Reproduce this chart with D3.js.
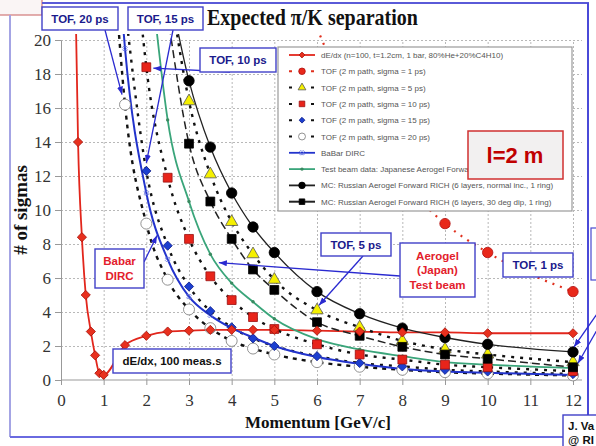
<!DOCTYPE html>
<html>
<head>
<meta charset="utf-8">
<script src="https://cdn.jsdelivr.net/npm/d3@7"></script>
<style>
  body { margin: 0; background: #fff; }
  svg { display: block; }
</style>
</head>
<body>
<svg id="chart"></svg>
<script>
// ---------------- data ----------------
const xTicks = [0, 1, 2, 3, 4, 5, 6, 7, 8, 9, 10, 11, 12];
const yTicks = [0, 2, 4, 6, 8, 10, 12, 14, 16, 18, 20];

// dE/dx, 100 measurements
const dedxP     = [0.35, 0.4, 0.49, 0.58, 0.7, 0.8, 0.9, 1.0, 1.5, 2, 2.5, 3, 3.5, 4, 4.5, 5, 6, 7, 8, 9, 10, 12];
const dedxSigma = [21, 14.0, 8.4, 5.0, 2.85, 1.45, 0.4, 0.3, 2.05, 2.6, 2.85, 2.9, 2.95, 2.95, 2.95, 2.95, 2.9, 2.85, 2.8, 2.8, 2.75, 2.75];

// TOF, 2 m path
const tof1P      = [6, 7, 8, 9, 10, 12];
const tof1Sigma  = [20.7, 15.2, 11.7, 9.2, 7.5, 5.2];
const tof5P      = [2.5, 3, 3.5, 4, 4.5, 5, 6, 7, 8, 9, 10, 12];
const tof5Sigma  = [24, 16.4, 12.1, 9.3, 7.4, 5.9, 4.1, 3.1, 2.3, 1.8, 1.5, 1.05];
const tof10P     = [1.5, 2, 2.5, 3, 3.5, 4, 4.5, 5, 6, 7, 8, 9, 10, 12];
const tof10Sigma = [33, 18.4, 11.9, 8.3, 6.1, 4.7, 3.7, 3.0, 2.1, 1.5, 1.2, 0.9, 0.75, 0.52];
const tof15P     = [1.5, 2, 2.5, 3, 3.5, 4, 4.5, 5, 6, 7, 8, 9, 10, 12];
const tof15Sigma = [22, 12.3, 7.9, 5.5, 4.05, 3.1, 2.45, 2.0, 1.4, 1.0, 0.8, 0.6, 0.5, 0.35];
const tof20P     = [1.25, 1.5, 2, 2.5, 3, 3.5, 4, 4.5, 5, 6, 7, 8, 9, 10, 12];
const tof20Sigma = [24, 16.2, 9.2, 5.9, 4.15, 3.05, 2.3, 1.85, 1.5, 1.05, 0.78, 0.6, 0.46, 0.38, 0.27];

// BaBar DIRC
const babarP     = [1.4, 1.5, 2, 2.5, 3, 3.5, 4, 4.5, 5, 6, 7, 8, 9, 10, 12];
const babarSigma = [22.5, 19.5, 11.0, 7.1, 4.9, 3.8, 3.05, 2.5, 2.0, 1.35, 0.95, 0.65, 0.5, 0.42, 0.3];

// Test beam: Japanese aerogel
const beamP     = [2.2, 2.5, 3, 3.5, 4, 4.5, 5, 6, 7, 8, 9, 10, 12];
const beamSigma = [21.5, 15.3, 10.5, 7.4, 5.7, 4.6, 3.6, 2.4, 1.8, 1.4, 1.05, 0.9, 0.7];

// MC: Russian aerogel forward RICH
const mcNormP     = [2.5, 3, 3.5, 4, 4.5, 5, 6, 7, 8, 9, 10, 12];
const mcNormSigma = [23.5, 17.6, 13.7, 11.0, 9.0, 7.5, 5.2, 3.9, 3.05, 2.5, 2.1, 1.65];
const mcDipP      = [2.5, 3, 3.5, 4, 4.5, 5, 6, 7, 8, 9, 10, 12];
const mcDipSigma  = [21.5, 13.9, 10.5, 8.3, 6.5, 5.3, 3.4, 2.6, 1.95, 1.5, 1.25, 0.75];

const legendLabels = [
  'dE/dx (n=100, t=1.2cm, 1 bar, 80%He+20%C4H10)',
  'TOF (2 m path, sigma = 1 ps)',
  'TOF (2 m path, sigma = 5 ps)',
  'TOF (2 m path, sigma = 10 ps)',
  'TOF (2 m path, sigma = 15 ps)',
  'TOF (2 m path, sigma = 20 ps)',
  'BaBar DIRC',
  'Test beam data: Japanese Aerogel Forward RICH',
  'MC: Russian Aerogel Forward RICH (6 layers, normal inc., 1 ring)',
  'MC: Russian Aerogel Forward RICH (6 layers, 30 deg dip, 1 ring)'
];

// ---------------- setup ----------------
const W = 596, H = 446;
const plotRight = 582;

const svg = d3.select('#chart').attr('width', W).attr('height', H);

const x = d3.scaleLinear().domain([0, 12]).range([61, 573]);
const y = d3.scaleLinear().domain([0, 20]).range([380, 40]);

const zip = (ps, vs) => ps.map((p, i) => ({p: p, v: vs[i]}));

// series styles (legend order)
const series = [
  {data: zip(dedxP, dedxSigma), color: '#e2261c', width: 1.8, dash: null, sym: 'diamond', size: 42, fill: '#e8301e', stroke: '#a8140c'},
  {data: zip(tof1P, tof1Sigma), color: '#e0301e', width: 2.2, dash: '2,6', sym: 'circle', size: 85, fill: '#e8281a', stroke: '#b01010'},
  {data: zip(tof5P, tof5Sigma), color: '#111', width: 2.4, dash: '3,6', sym: 'triangle', size: 66, fill: '#f5f000', stroke: '#555'},
  {data: zip(tof10P, tof10Sigma), color: '#111', width: 2.4, dash: '3,6', sym: 'square', size: 78, fill: '#e8241a', stroke: '#9a1010'},
  {data: zip(tof15P, tof15Sigma), color: '#111', width: 2.4, dash: '3,6', sym: 'diamond', size: 42, fill: '#1c3fd0', stroke: '#10208a'},
  {data: zip(tof20P, tof20Sigma), color: '#111', width: 2.4, dash: '4,5', sym: 'circle', size: 95, fill: '#fff', stroke: '#777'},
  {data: zip(babarP, babarSigma), color: '#2233cc', width: 2, dash: null, sym: 'x', size: 14, fill: 'none', stroke: '#6a7ae0'},
  {data: zip(beamP, beamSigma), color: '#3aa57a', width: 1.8, dash: null, sym: 'circle', size: 9, fill: '#3a8a60', stroke: 'none'},
  {data: zip(mcNormP, mcNormSigma), color: '#222', width: 1.3, dash: null, sym: 'circle', size: 85, fill: '#000', stroke: '#000'},
  {data: zip(mcDipP, mcDipSigma), color: '#222', width: 1.5, dash: '8,4', sym: 'square', size: 78, fill: '#000', stroke: '#000'}
];

const symType = {diamond: d3.symbolSquare, circle: d3.symbolCircle, triangle: d3.symbolTriangle,
                 square: d3.symbolSquare, x: d3.symbolCross};
const symRot = {diamond: 45, x: 45};

function drawMarker(g, s, cx, cy, k) {
  g.append('path')
    .attr('d', d3.symbol().type(symType[s.sym]).size(s.size * k)())
    .attr('transform', `translate(${cx},${cy}) rotate(${symRot[s.sym] || 0})`)
    .attr('fill', s.fill)
    .attr('stroke', s.stroke)
    .attr('stroke-width', 0.8);
}

// ---------------- slide frame ----------------
const frame = svg.append('g');
frame.append('rect').attr('x', -1).attr('y', -1).attr('width', 43).attr('height', 16)
  .attr('fill', '#faf5f5').attr('stroke', '#d07878').attr('stroke-width', 1.2);
frame.append('line').attr('x1', 10).attr('x2', 10).attr('y1', 15).attr('y2', 437)
  .attr('stroke', '#a4a4e4').attr('stroke-width', 2);
frame.append('line').attr('x1', 42).attr('x2', 589).attr('y1', 3).attr('y2', 3)
  .attr('stroke', '#5a5ad8').attr('stroke-width', 2);
frame.append('line').attr('x1', 588).attr('x2', 588).attr('y1', 3).attr('y2', 415)
  .attr('stroke', '#4a4ad8').attr('stroke-width', 2);
frame.append('line').attr('x1', 10).attr('x2', 563).attr('y1', 437).attr('y2', 437)
  .attr('stroke', '#6a6ae0').attr('stroke-width', 2);
frame.append('rect').attr('x', 591).attr('y', 228).attr('width', 12).attr('height', 52)
  .attr('fill', '#fff').attr('stroke', '#4a4ad0').attr('stroke-width', 1.2);

// title
svg.append('text')
  .attr('transform', 'translate(207,25) scale(1,1.2)')
  .attr('font-family', '"Liberation Serif", "Times New Roman", serif')
  .attr('font-weight', 'bold').attr('font-size', 20).attr('fill', '#111')
  .text('Expected \u03c0/K separation');

// ---------------- grid ----------------
svg.append('g')
  .attr('transform', `translate(${x(0)},0)`)
  .call(d3.axisLeft(y).tickValues(yTicks.slice(1)).tickSize(-(plotRight - x(0))).tickFormat(''))
  .call(g => g.select('.domain').remove())
  .call(g => g.selectAll('line').attr('stroke', '#b8b8b8').attr('stroke-dasharray', '2,2'));

svg.append('g')
  .attr('transform', `translate(0,${y(0)})`)
  .call(d3.axisBottom(x).tickValues(xTicks.slice(1)).tickSize(-(y(0) - y(20))).tickFormat(''))
  .call(g => g.select('.domain').remove())
  .call(g => g.selectAll('line').attr('stroke', '#b8b8b8').attr('stroke-dasharray', '2,2'));

// ---------------- axes ----------------
const tickFont = '"Liberation Serif", "Times New Roman", serif';

svg.append('g')
  .attr('transform', `translate(${x(0)},0)`)
  .call(d3.axisLeft(y).tickValues(yTicks).tickSize(6).tickSizeOuter(0).tickPadding(4))
  .call(g => g.select('.domain').attr('stroke', '#999'))
  .call(g => g.selectAll('line').attr('stroke', '#999'))
  .call(g => g.selectAll('text').attr('font-family', tickFont).attr('font-size', 17).attr('fill', '#333'));

svg.append('g')
  .attr('transform', `translate(0,${y(0)})`)
  .call(d3.axisBottom(x).tickValues(xTicks).tickSize(5).tickSizeOuter(0).tickPadding(9))
  .call(g => g.select('.domain').attr('d', `M${x(0)},0H${plotRight}`).attr('stroke', '#999'))
  .call(g => g.selectAll('line').attr('stroke', '#999'))
  .call(g => g.selectAll('text').attr('font-family', tickFont).attr('font-size', 17).attr('fill', '#333'));

// axis titles
svg.append('text')
  .attr('x', (x(0) + x(12)) / 2 + 1).attr('y', 428)
  .attr('text-anchor', 'middle')
  .attr('font-family', tickFont).attr('font-weight', 'bold').attr('font-size', 17).attr('fill', '#111')
  .text('Momentum [GeV/c]');

svg.append('text')
  .attr('transform', `translate(27,${(y(0) + y(20)) / 2}) rotate(-90)`)
  .attr('text-anchor', 'middle')
  .attr('font-family', tickFont).attr('font-weight', 'bold').attr('font-size', 19).attr('fill', '#111')
  .text('# of sigmas');

// ---------------- series ----------------
svg.append('defs').append('clipPath').attr('id', 'plot-clip')
  .append('rect').attr('x', x(0)).attr('y', 34).attr('width', plotRight - x(0) + 4).attr('height', 356);

const chart = svg.append('g').attr('clip-path', 'url(#plot-clip)');

const line = d3.line().x(d => x(d.p)).y(d => y(d.v)).curve(d3.curveMonotoneX);

series.forEach(s => {
  chart.append('path')
    .datum(s.data)
    .attr('fill', 'none')
    .attr('stroke', s.color)
    .attr('stroke-width', s.width)
    .attr('stroke-dasharray', s.dash)
    .attr('d', line);
});

// marker drawing order: open circles at the bottom, big solid markers on top
const markerOrder = [6, 7, 5, 4, 3, 2, 9, 8, 0, 1];
markerOrder.forEach(i => {
  const s = series[i];
  const g = chart.append('g');
  s.data.forEach(d => drawMarker(g, s, x(d.p), y(d.v), 1));
});

// ---------------- legend ----------------
const legend = svg.append('g');
legend.append('rect').attr('x', 278).attr('y', 47).attr('width', 294).attr('height', 164)
  .attr('fill', '#fff').attr('stroke', '#9a9a9a').attr('stroke-width', 1.2);

legendLabels.forEach((label, i) => {
  const s = series[i];
  const ly = 55 + i * 16.3;
  legend.append('line')
    .attr('x1', 289).attr('x2', 315).attr('y1', ly).attr('y2', ly)
    .attr('stroke', s.color)
    .attr('stroke-width', s.dash ? 2 : 1.8)
    .attr('stroke-dasharray', s.dash ? (i === 9 ? null : '3,8') : null);
  drawMarker(legend, s, 302, ly, s.size > 20 ? 0.4 : 1);
  legend.append('text')
    .attr('x', 321).attr('y', ly + 3)
    .attr('font-family', '"Liberation Sans", Arial, sans-serif')
    .attr('font-size', 8).attr('fill', '#555')
    .text(label);
});

// l = 2 m box
svg.append('rect').attr('x', 468).attr('y', 131).attr('width', 95).attr('height', 48)
  .attr('fill', '#f2f0f0').attr('stroke', '#d03030').attr('stroke-width', 1.5);
svg.append('text').attr('x', 515).attr('y', 163).attr('text-anchor', 'middle')
  .attr('font-family', '"Liberation Sans", Arial, sans-serif')
  .attr('font-weight', 'bold').attr('font-size', 22).attr('fill', '#c00000')
  .text('l=2 m');

// ---------------- annotations ----------------
svg.select('defs').append('marker')
  .attr('id', 'arrow').attr('markerUnits', 'userSpaceOnUse')
  .attr('markerWidth', 8).attr('markerHeight', 6).attr('refX', 8).attr('refY', 3)
  .attr('orient', 'auto')
  .append('path').attr('d', 'M0,0L8,3L0,6Z').attr('fill', '#2a2ad0');

const navy = '#1a1a8c', red = '#e3202c';

// label boxes: [x, y, w, h], lines, colour
const notes = [
  {box: [42, 7, 76, 23], lines: ['TOF, 20 ps'], color: navy},
  {box: [128, 7, 75, 23], lines: ['TOF, 15 ps'], color: navy},
  {box: [200, 48, 76, 24], lines: ['TOF, 10 ps'], color: navy},
  {box: [95, 249, 49, 39], lines: ['Babar', 'DIRC'], color: red},
  {box: [113, 349, 118, 24], lines: ['dE/dx, 100 meas.s'], color: '#111'},
  {box: [321, 233, 70, 23], lines: ['TOF, 5 ps'], color: navy},
  {box: [400, 243, 75, 54], lines: ['Aerogel', '(Japan)', 'Test beam'], color: red},
  {box: [503, 253, 70, 24], lines: ['TOF, 1 ps'], color: navy},
  {box: [563, 415, 40, 40], lines: ['J. Va', '@ RI'], color: '#111', left: true, lh: 13.5, dy: -2}
];

// arrows: start point, tip anchored on a data point (p, v) plus a small pixel offset
const arrows = [
  {from: [105, 30], at: [1.5, 16.2], off: [-3, -10]},
  {from: [173, 30], at: [2, 12.3], off: [0, -8]},
  {from: [230, 72], at: [2, 18.4], off: [7, 1]},
  {from: [144, 262], at: [2.25, 8.5], off: [0, 0]},
  {from: [363, 256], at: [6, 4.1], off: [2, -5]},
  {from: [400, 276], at: [3.7, 6.9], off: [0, 0]},
  {from: [597, 314], at: [12, 1.65], off: [1, -5]},
  {from: [597, 330], at: [12, 0.75], off: [5, -4]}
];

arrows.forEach(a => {
  svg.append('line')
    .attr('x1', a.from[0]).attr('y1', a.from[1])
    .attr('x2', x(a.at[0]) + a.off[0]).attr('y2', y(a.at[1]) + a.off[1])
    .attr('stroke', '#2a2ad0').attr('stroke-width', 1.3)
    .attr('marker-end', 'url(#arrow)');
});

notes.forEach(n => {
  const [bx, by, bw, bh] = n.box;
  svg.append('rect').attr('x', bx).attr('y', by).attr('width', bw).attr('height', bh)
    .attr('fill', '#fff').attr('stroke', '#4040c8').attr('stroke-width', 1.4);
  const lh = n.lh || 14.5;
  const top = by + bh / 2 - (n.lines.length - 1) * lh / 2 + (n.dy || 0);
  n.lines.forEach((t, j) => {
    svg.append('text')
      .attr('x', n.left ? bx + 5 : bx + bw / 2)
      .attr('y', top + j * lh + 4)
      .attr('text-anchor', n.left ? 'start' : 'middle')
      .attr('font-family', '"Liberation Sans", Arial, sans-serif')
      .attr('font-weight', 'bold').attr('font-size', 11.5).attr('fill', n.color)
      .text(t);
  });
});
</script>
</body>
</html>
